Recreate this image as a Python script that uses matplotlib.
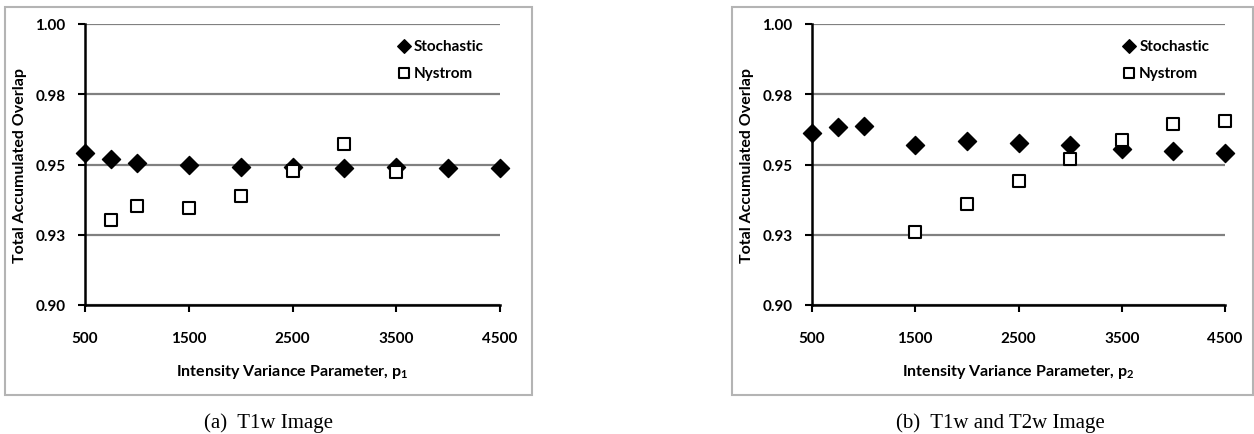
import matplotlib
matplotlib.use("Agg")
import matplotlib.pyplot as plt
from matplotlib.patches import Rectangle

plt.rcParams['font.family'] = ['Lato', 'DejaVu Sans']
plt.rcParams['mathtext.fontset'] = 'custom'
plt.rcParams['mathtext.rm'] = 'Lato'
plt.rcParams['mathtext.bf'] = 'Lato:bold'

# data
params = [500, 750, 1000, 1500, 2000, 2500, 3000, 3500, 4000, 4500]
stoch_t1 = [0.9540, 0.9520, 0.9506, 0.9497, 0.9490, 0.9492, 0.9488, 0.9490, 0.9487, 0.9487]
nys_params_t1 = [750, 1000, 1500, 2000, 2500, 3000, 3500]
nys_t1 = [0.9301, 0.9353, 0.9344, 0.9389, 0.9478, 0.9573, 0.9472]

stoch_t2 = [0.9611, 0.9632, 0.9638, 0.9571, 0.9583, 0.9578, 0.9568, 0.9555, 0.9547, 0.9541]
nys_params_t2 = [1500, 2000, 2500, 3000, 3500, 4000, 4500]
nys_t2 = [0.9259, 0.9361, 0.9442, 0.9520, 0.9586, 0.9643, 0.9656]

yticks = [0.90, 0.925, 0.95, 0.975, 1.00]
ylabels = ['0.90', '0.93', '0.95', '0.98', '1.00']
xticks = [500, 1500, 2500, 3500, 4500]
captions = ['(a)  T1w Image', '(b)  T1w and T2w Image']
xlabels = [r'Intensity Variance Parameter, p$_\mathbf{1}$',
           r'Intensity Variance Parameter, p$_\mathbf{2}$']

W, H = 1254, 435
fig = plt.figure(figsize=(W / 100, H / 100), dpi=100)

# (axes left px, axes width px, frame x range px, caption centre px)
panels = [
    (85, 415, stoch_t1, nys_params_t1, nys_t1, (5, 532), 268),
    (812, 413, stoch_t2, nys_params_t2, nys_t2, (732, 1253), 1000),
]

for i, (x0, w, stoch, nx, ny, box, cx) in enumerate(panels):
    # grey frame around each chart
    fig.patches.append(Rectangle((box[0] / W, 1 - 396 / H), (box[1] - box[0]) / W, 388 / H,
                                 transform=fig.transFigure, fill=False,
                                 edgecolor='#b4b4b4', linewidth=1.5))
    ax = fig.add_axes([x0 / W, 1 - 306 / H, w / W, 281 / H])
    ax.set_xlim(500, 4500)
    ax.set_ylim(0.90, 1.00)
    for s in ['top', 'right']:
        ax.spines[s].set_visible(False)
    for s in ['left', 'bottom']:
        ax.spines[s].set_linewidth(1.8)
    ax.set_yticks(yticks)
    ax.set_yticklabels(ylabels, fontweight='bold', fontsize=11)
    ax.set_xticks(xticks)
    ax.set_xticklabels([str(t) for t in xticks], fontweight='bold', fontsize=11)
    ax.tick_params(axis='y', length=5, width=1.5, pad=9)
    ax.tick_params(axis='x', length=5, width=1.5, pad=14)
    ax.yaxis.grid(True, color='#808080', linewidth=1.6)
    ax.set_axisbelow(True)

    ax.scatter(params, stoch, marker='D', s=85, color='black', clip_on=False,
               zorder=3, label='Stochastic')
    ax.scatter(nx, ny, marker='s', s=80, facecolor='white', edgecolor='black',
               linewidth=1.5, clip_on=False, zorder=4, label='Nystrom')

    ax.set_ylabel('Total Accumulated Overlap', fontweight='bold', fontsize=11.5, labelpad=6)
    ax.set_xlabel(xlabels[i], fontweight='bold', fontsize=11.5, labelpad=12)
    ax.legend(loc='upper left', bbox_to_anchor=(0.735, 0.97), frameon=False,
              markerscale=0.75, handlelength=1.0, handletextpad=0.15,
              labelspacing=0.85, borderaxespad=0,
              prop={'weight': 'bold', 'size': 11})

    fig.text(cx / W, 1 - 423 / H, captions[i], ha='center', va='center',
             family='Liberation Serif', fontsize=15)

fig.savefig('out.png', dpi=100)
